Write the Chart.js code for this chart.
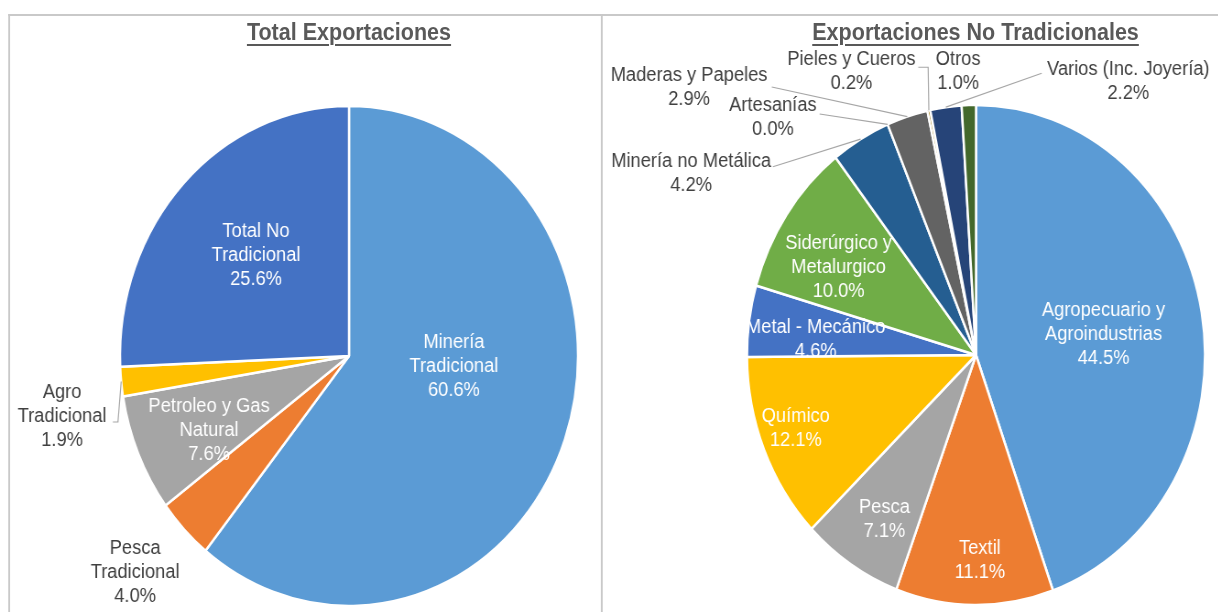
<!DOCTYPE html>
<html>
<head>
<meta charset="utf-8">
<script src="https://cdn.jsdelivr.net/npm/chart.js@4.4.1/dist/chart.umd.min.js"></script>
<style>
  html, body { margin: 0; padding: 0; background: #fff; overflow: hidden; }
  #stage {
    position: absolute; left: 0; top: 0; width: 1330px; height: 612px;
    transform: scaleX(0.916); transform-origin: 0 0;
  }
  .rule { position: absolute; background: #c9c9c9; }
  .title {
    position: absolute; top: 21px; width: 560px; margin-left: -280px;
    text-align: center; font: bold 23.5px "Liberation Sans", Arial, sans-serif;
    line-height: 23px; color: #595959;
    text-decoration: underline; text-decoration-thickness: 2px; text-underline-offset: 4px;
  }
  canvas { position: absolute; top: 0; }
</style>
</head>
<body>
<div id="stage">
  <div class="rule" style="left:9px; top:14px; width:1330px; height:2px"></div>
  <div class="rule" style="left:9px; top:14px; width:2px; height:600px"></div>
  <div class="rule" style="left:656px; top:14px; width:2px; height:600px"></div>
  <div class="title" style="left:381px">Total Exportaciones</div>
  <div class="title" style="left:1065px">Exportaciones No Tradicionales</div>
  <canvas id="totalPie" width="647" height="612" style="left:10px"></canvas>
  <canvas id="noTradPie" width="673" height="612" style="left:657px"></canvas>
</div>

<script>
// Total exports by group (share of total, %)
const totalCategories = [
  ['Minería', 'Tradicional'],
  ['Pesca', 'Tradicional'],
  ['Petroleo y Gas', 'Natural'],
  ['Agro', 'Tradicional'],
  ['Total No', 'Tradicional']
];
const totalShares = [60.6, 4.0, 7.6, 1.9, 25.6];
const totalColors = ['#5B9BD5', '#ED7D31', '#A5A5A5', '#FFC000', '#4472C4'];

// Non-traditional exports by sector (share, %)
const noTradCategories = [
  ['Agropecuario y', 'Agroindustrias'],
  ['Textil'],
  ['Pesca'],
  ['Químico'],
  ['Metal - Mecánico'],
  ['Siderúrgico y', 'Metalurgico'],
  ['Minería no Metálica'],
  ['Artesanías'],
  ['Maderas y Papeles'],
  ['Pieles y Cueros'],
  ['Varios (Inc. Joyería)'],
  ['Otros']
];
const noTradShares = [44.5, 11.1, 7.1, 12.1, 4.6, 10.0, 4.2, 0.0, 2.9, 0.2, 2.2, 1.0];
const noTradColors = ['#5B9BD5', '#ED7D31', '#A5A5A5', '#FFC000', '#4472C4', '#70AD47',
                      '#255E91', '#9E480E', '#636363', '#997300', '#264478', '#43682B'];

// Label placement, in units of the pie radius from its centre.
// "leader" points run from the text towards the slice; the slice edge is appended.
const totalSpots = [
  { at: [0.458, 0.040], inside: true },
  { at: [-0.934, 0.864] },
  { at: [-0.611, 0.296], inside: true },
  { at: [-1.253, 0.240], leader: [[-1.031, 0.264], [-1.009, 0.264]] },
  { at: [-0.406, -0.404], inside: true }
];
const noTradSpots = [
  { at: [0.557, -0.084], inside: true },
  { at: [0.017, 0.821], inside: true },
  { at: [-0.400, 0.657], inside: true },
  { at: [-0.787, 0.295], inside: true },
  { at: [-0.700, -0.062], inside: true },
  { at: [-0.600, -0.351], inside: true },
  { at: [-1.244, -0.725], leader: [[-0.887, -0.753]] },
  { at: [-0.887, -0.952], leader: [[-0.683, -0.964]] },
  { at: [-1.253, -1.072], leader: [[-0.892, -1.072]] },
  { at: [-0.544, -1.135], leader: [[-0.252, -1.151], [-0.209, -1.151]] },
  { at: [0.665, -1.096], leader: [[0.287, -1.127]] },
  { at: [-0.078, -1.135] }
];

// Draws category + percentage text for every slice, with optional leader lines
const sliceLabels = {
  id: 'sliceLabels',
  afterDatasetsDraw(chart, _args, opts) {
    const ctx = chart.ctx;
    const arcs = chart.getDatasetMeta(0).data;
    const values = chart.data.datasets[0].data;
    ctx.save();
    ctx.font = opts.font;
    ctx.textAlign = 'center';
    ctx.textBaseline = 'middle';
    arcs.forEach((arc, i) => {
      const p = arc.getProps(['x', 'y', 'startAngle', 'endAngle', 'outerRadius'], true);
      const spot = opts.spots[i];
      const R = p.outerRadius;
      if (spot.leader) {
        const mid = (p.startAngle + p.endAngle) / 2;
        const pts = spot.leader.map(q => [p.x + q[0] * R, p.y + q[1] * R]);
        pts.push([p.x + Math.cos(mid) * R, p.y + Math.sin(mid) * R]);
        ctx.beginPath();
        ctx.moveTo(pts[0][0], pts[0][1]);
        for (let k = 1; k < pts.length; k++) ctx.lineTo(pts[k][0], pts[k][1]);
        ctx.strokeStyle = '#a6a6a6';
        ctx.lineWidth = 1.2;
        ctx.stroke();
      }
      const lines = [].concat(chart.data.labels[i], values[i].toFixed(1) + '%');
      const cx = p.x + spot.at[0] * R;
      const cy = p.y + spot.at[1] * R;
      ctx.fillStyle = spot.inside ? '#ffffff' : '#404040';
      lines.forEach((t, k) => {
        ctx.fillText(t, cx, cy + (k - (lines.length - 1) / 2) * opts.lineHeight);
      });
    });
    ctx.restore();
  }
};

function makePie(id, labels, values, colors, spots, padding) {
  return new Chart(document.getElementById(id), {
    type: 'pie',
    data: {
      labels: labels,
      datasets: [{
        data: values,
        backgroundColor: colors,
        borderColor: '#ffffff',
        borderWidth: 2.5
      }]
    },
    options: {
      responsive: false,
      maintainAspectRatio: false,
      devicePixelRatio: 1,
      animation: false,
      radius: 250,
      layout: { padding: padding },
      plugins: {
        legend: { display: false },
        tooltip: { enabled: false },
        title: { display: false },
        sliceLabels: {
          spots: spots,
          font: '20px "Liberation Sans", Arial, sans-serif',
          lineHeight: 24
        }
      }
    },
    plugins: [sliceLabels]
  });
}

makePie('totalPie', totalCategories, totalShares, totalColors, totalSpots,
        { left: 95, right: 0, top: 100, bottom: 0 });
makePie('noTradPie', noTradCategories, noTradShares, noTradColors, noTradSpots,
        { left: 144, right: 0, top: 98, bottom: 0 });
</script>
</body>
</html>
